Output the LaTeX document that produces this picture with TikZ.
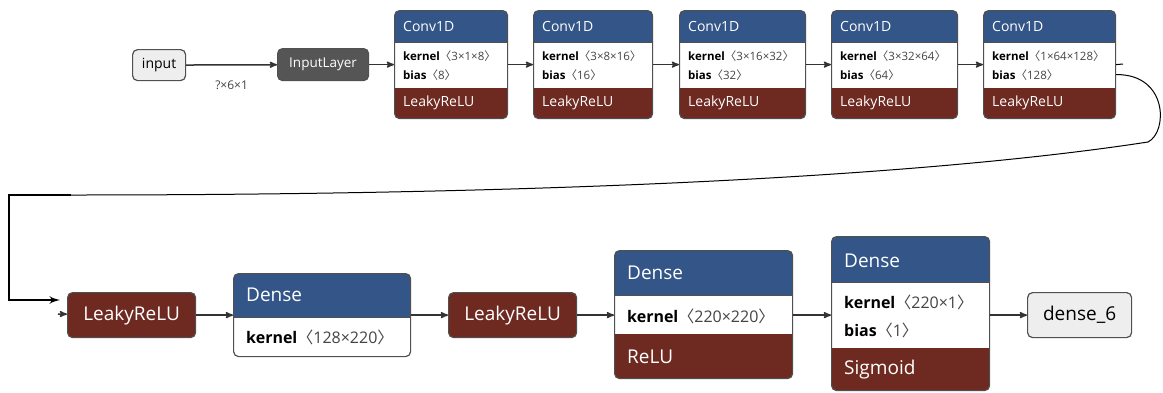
\documentclass[tikz,border=0pt]{standalone}
\usepackage{fontspec}
\setmainfont{Open Sans}
\newfontfamily\cjk{Noto Sans CJK SC}
\usepackage{tikz}
\usetikzlibrary{arrows}

\definecolor{layerblue}{HTML}{335588}
\definecolor{actred}{HTML}{6E2920}
\definecolor{ingray}{HTML}{555555}
\definecolor{inbg}{HTML}{EEEEEE}
\definecolor{boxline}{HTML}{505050}
\definecolor{valgray}{HTML}{444444}
\newcommand{\shp}[1]{{\color{valgray}{\cjk 〈}#1{\cjk 〉}}}

\tikzset{
  layer/.style n args={2}{draw=boxline, line width=1.2pt, fill=white, rounded corners=5pt, inner sep=0pt, anchor=north west,
    path picture={
      \fill[layerblue, sharp corners] (path picture bounding box.north west) rectangle ([yshift=-#1]path picture bounding box.north east);
      \fill[actred, sharp corners] (path picture bounding box.south west) rectangle ([yshift=#2]path picture bounding box.south east);
      \draw[boxline, sharp corners, line width=0.8pt] ([yshift=-#1]path picture bounding box.north west) -- ([yshift=-#1]path picture bounding box.north east);
    }},
  plain/.style={draw=boxline, line width=1.2pt, rounded corners=5pt, inner sep=0pt, anchor=north west},
  ttl/.style={text=white, inner sep=0pt, anchor=west},
  attr/.style={text=black, inner sep=0pt, anchor=west},
  lbl/.style={text=valgray, inner sep=0pt, font=\fontsize{12}{14}\selectfont},
  edge/.style={draw=black!80, line width=1.5pt, -stealth'},
  wire/.style={draw=black, line width=1pt},
}

\begin{document}
\begin{tikzpicture}[x=1pt, y=-1pt]
  \useasboundingbox (0,0) rectangle (1163,392);

  % top row
  \node[plain, fill=inbg, minimum width=53pt, minimum height=31pt, font=\fontsize{14}{16}\selectfont] (in) at (132,49) {input};
  \node[plain, fill=ingray, text=white, minimum width=91pt, minimum height=32pt, font=\fontsize{13.5}{16}\selectfont] (il) at (277,48) {InputLayer};
  \draw[edge] (in) -- node[lbl, below=15pt] (inshape) {?×6×1} (il);

  \foreach \n/\x/\w/\k/\b in {1/394/113/3×1×8/8, 2/533/119/3×8×16/16, 3/679/126/3×16×32/32, 4/831/126/3×32×64/64, 5/983/132/1×64×128/128}{
    \node[layer={32pt}{31pt}, minimum width=\w pt, minimum height=108pt] (c\n) at (\x,10) {};
    \node[ttl, font=\fontsize{14}{16}\selectfont] (c\n-t) at ([xshift=9pt,yshift=-16pt]c\n.north west) {Conv1D};
    \node[attr, font=\fontsize{11.5}{13}\selectfont] (c\n-k) at ([xshift=9pt,yshift=-46pt]c\n.north west) {\textbf{kernel}\shp{\k}};
    \node[attr, font=\fontsize{11.5}{13}\selectfont] (c\n-b) at ([xshift=9pt,yshift=-65pt]c\n.north west) {\textbf{bias}\shp{\b}};
    \node[ttl, font=\fontsize{14}{16}\selectfont] (c\n-a) at ([xshift=9pt,yshift=-93pt]c\n.north west) {LeakyReLU};
  }
  \draw[edge] (il) -- (c1);
  \foreach \a/\b in {1/2,2/3,3/4,4/5}
    \draw[edge] (c\a) -- (c\b);

  % wrap to second row
  \coordinate (stub) at (1123,64);
  \coordinate (wrapturn) at (1148,142);
  \coordinate (wrapleft) at (71,195);
  \coordinate (wrapin) at (60,300);
  \coordinate (lastub) at (58,314);
  \draw[wire] (c5.east) -- (stub);
  \draw[wire] ([yshift=-10pt]c5.east) .. controls (1168,74) and (1168,132) .. (wrapturn)
    .. controls (900,180) and (500,195) .. (wrapleft);
  \draw[line width=2.6pt, -latex'] (wrapleft) -- (9,195) -- (9,300) -- (wrapin);

  % bottom row
  \node[plain, fill=actred, text=white, minimum width=128pt, minimum height=45pt, font=\fontsize{19}{22}\selectfont] (la) at (67,292) {LeakyReLU};
  \node[layer={44pt}{0pt}, minimum width=177pt, minimum height=83pt] (da) at (233,273) {};
  \node[ttl, font=\fontsize{19}{22}\selectfont] (da-t) at (246,295) {Dense};
  \node[attr, font=\fontsize{16}{19}\selectfont] (da-k) at (246,337) {\textbf{kernel}\shp{128×220}};
  \node[plain, fill=actred, text=white, minimum width=128pt, minimum height=45pt, font=\fontsize{19}{22}\selectfont] (lb) at (448,292) {LeakyReLU};
  \node[layer={45pt}{45pt}, minimum width=178pt, minimum height=128pt] (db) at (614,250) {};
  \node[ttl, font=\fontsize{19}{22}\selectfont] (db-t) at (627,273) {Dense};
  \node[attr, font=\fontsize{16}{19}\selectfont] (db-k) at (627,316) {\textbf{kernel}\shp{220×220}};
  \node[ttl, font=\fontsize{19}{22}\selectfont] (db-a) at (627,357) {ReLU};
  \node[layer={46pt}{43pt}, minimum width=158pt, minimum height=154pt] (dc) at (831,236) {};
  \node[ttl, font=\fontsize{19}{22}\selectfont] (dc-t) at (844,261) {Dense};
  \node[attr, font=\fontsize{16}{19}\selectfont] (dc-k) at (844,302) {\textbf{kernel}\shp{220×1}};
  \node[attr, font=\fontsize{16}{19}\selectfont] (dc-b) at (844,330) {\textbf{bias}\shp{1}};
  \node[ttl, font=\fontsize{19}{22}\selectfont] (dc-a) at (844,370) {Sigmoid};
  \node[plain, fill=inbg, minimum width=104pt, minimum height=45pt, font=\fontsize{19}{22}\selectfont] (d6) at (1027,292) {dense\_6};

  \draw[edge] (lastub) -- (la);
  \draw[edge] (la) -- (la -| da.west);
  \draw[edge] (da.east |- lb) -- (lb);
  \draw[edge] (lb) -- (lb -| db.west);
  \draw[edge] (db.east |- lb) -- (lb -| dc.west);
  \draw[edge] (dc.east |- d6) -- (d6);
\end{tikzpicture}
\end{document}
